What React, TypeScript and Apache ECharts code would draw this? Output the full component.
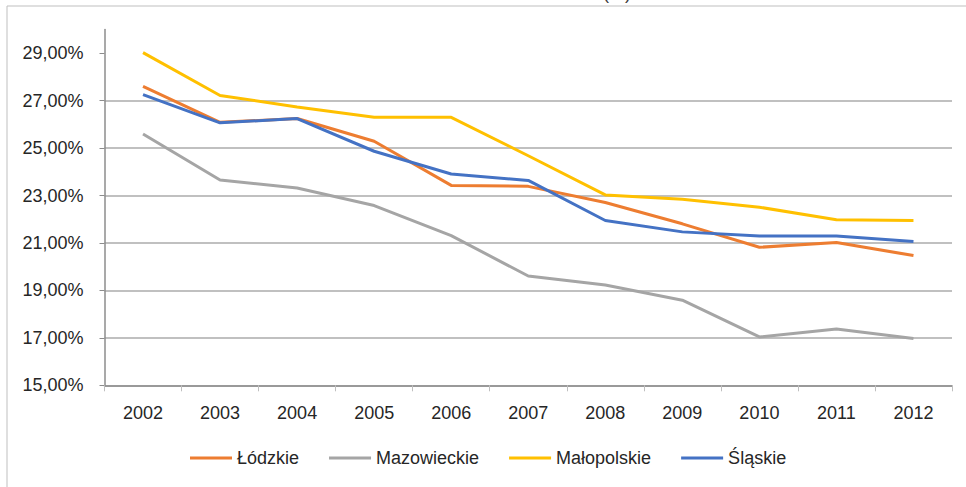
import React, { useEffect, useRef } from "react";
import * as echarts from "echarts";

const years = ["2002", "2003", "2004", "2005", "2006", "2007", "2008", "2009", "2010", "2011", "2012"];
const lodzkie = [27.61, 26.09, 26.25, 25.29, 23.43, 23.39, 22.71, 21.81, 20.82, 21.02, 20.47];
const mazowieckie = [25.6, 23.66, 23.32, 22.58, 21.31, 19.61, 19.23, 18.59, 17.04, 17.37, 16.97];
const malopolskie = [29.03, 27.22, 26.74, 26.3, 26.3, 24.68, 23.03, 22.85, 22.51, 21.98, 21.95];
const slaskie = [27.26, 26.07, 26.25, 24.87, 23.91, 23.64, 21.95, 21.47, 21.3, 21.3, 21.06];
const seriesNames = ["Łódzkie", "Mazowieckie", "Małopolskie", "Śląskie"];
const yTicks = [15, 17, 19, 21, 23, 25, 27, 29];
const titleText = "(%)";

const colors = ["#ED7D31", "#A5A5A5", "#FFC000", "#4472C4"];
const FONT = "Liberation Sans";

export default function App() {
  const ref = useRef<HTMLDivElement>(null);
  useEffect(() => {
    if (!ref.current) return;
    const chart = echarts.init(ref.current, null, { renderer: "svg" });
    const data = [lodzkie, mazowieckie, malopolskie, slaskie];
    chart.setOption({
      animation: false,
      backgroundColor: "#ffffff",
      textStyle: { fontFamily: FONT },
      grid: { left: 104.5, right: 14, top: 29.6, bottom: 101.7, containLabel: false },
      graphic: [
        {
          type: "rect",
          shape: { x: 7, y: 6, width: 1000, height: 600 },
          style: { fill: "none", stroke: "#BFBFBF", lineWidth: 1 },
          silent: true,
        },
        {
          type: "text",
          x: 617,
          y: -7,
          style: {
            text: titleText,
            fontFamily: FONT,
            fontSize: 18,
            fill: "#404040",
            align: "center",
            verticalAlign: "middle",
          },
        },
      ],
      legend: {
        left: 190,
        top: 449,
        padding: 0,
        icon: "rect",
        itemWidth: 42,
        itemHeight: 3,
        itemGap: 30,
        data: seriesNames,
        textStyle: { fontFamily: FONT, fontSize: 18, color: "#262626" },
      },
      xAxis: {
        type: "category",
        data: years,
        boundaryGap: true,
        axisLine: { lineStyle: { color: "#8C8C8C", width: 1.5 } },
        axisTick: { show: true, length: 6, inside: false, lineStyle: { color: "#BFBFBF" } },
        axisLabel: { fontFamily: FONT, fontSize: 18, color: "#262626", margin: 19 },
        splitLine: { show: false },
      },
      yAxis: {
        type: "value",
        min: 15,
        max: 30,
        axisLine: { show: true, lineStyle: { color: "#8C8C8C", width: 1.5 } },
        axisTick: { show: true, length: 5, customValues: yTicks, lineStyle: { color: "#8C8C8C" } },
        axisLabel: {
          customValues: yTicks,
          fontFamily: FONT,
          fontSize: 18,
          color: "#262626",
          margin: 21,
          formatter: (v: number) => v.toFixed(2).replace(".", ",") + "%",
        },
        splitLine: { show: true, showMaxLine: false, lineStyle: { color: "#ABABAB", width: 1.5 } },
      },
      series: seriesNames.map((name, i) => ({
        name,
        type: "line",
        data: data[i],
        symbol: "none",
        showSymbol: false,
        lineStyle: { width: 3, color: colors[i] },
        itemStyle: { color: colors[i] },
        z: 2 + i,
      })),
    });
    return () => chart.dispose();
  }, []);
  return (
    <div
      ref={ref}
      style={{ position: "fixed", left: 0, top: 0, width: 966, height: 487 }}
    />
  );
}
